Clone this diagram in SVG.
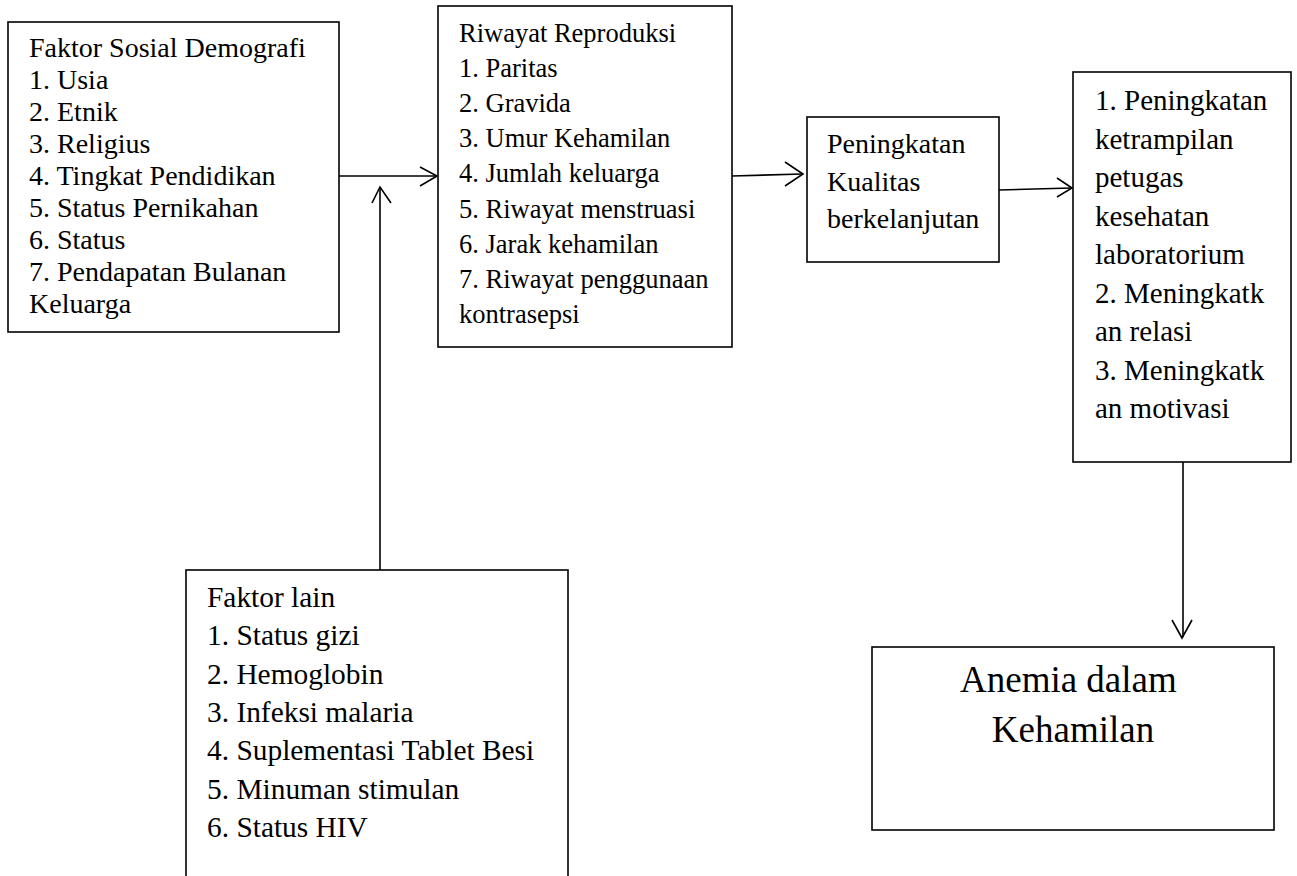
<svg xmlns="http://www.w3.org/2000/svg" width="1297" height="876" viewBox="0 0 1297 876">
<style>
.box{fill:#fff;stroke:#000;stroke-width:1.6}
text{font-family:'Liberation Serif','Times New Roman','DejaVu Serif',serif;fill:#000}
.c{fill:none;stroke:#000;stroke-width:1.6}
</style>
<rect width="1297" height="876" fill="#fff"/>
<g id="connectors">
<path class="c" d="M339,176 H437"/>
<path class="c" d="M420,167 L437,176 L420,186"/>
<path class="c" d="M380,570 V188"/>
<path class="c" d="M372,203 L380,187 L391,203"/>
<path class="c" d="M732,176 L802,174"/>
<path class="c" d="M785,162 L803,174 L785,186"/>
<path class="c" d="M999,190 L1071,188"/>
<path class="c" d="M1057,178 L1072,188 L1057,197"/>
<path class="c" d="M1183,462 V637"/>
<path class="c" d="M1172,620 L1182,638 L1192,620"/>
</g>
<g id="faktor-sosial">
<rect class="box" x="8" y="22" width="331" height="310"/>
<text font-family="Liberation Serif, serif" font-size="28">
<tspan x="29" y="57">Faktor Sosial Demografi</tspan>
<tspan x="29" y="89">1. Usia</tspan>
<tspan x="29" y="121">2. Etnik</tspan>
<tspan x="29" y="153">3. Religius</tspan>
<tspan x="29" y="185">4. Tingkat Pendidikan</tspan>
<tspan x="29" y="217">5. Status Pernikahan</tspan>
<tspan x="29" y="249">6. Status</tspan>
<tspan x="29" y="281">7. Pendapatan Bulanan</tspan>
<tspan x="29" y="313">Keluarga</tspan>
</text>
</g>
<g id="riwayat-reproduksi">
<rect class="box" x="438" y="6" width="294" height="341"/>
<text font-family="Liberation Serif, serif" font-size="26.5">
<tspan x="459" y="42">Riwayat Reproduksi</tspan>
<tspan x="459" y="77">1. Paritas</tspan>
<tspan x="459" y="112">2. Gravida</tspan>
<tspan x="459" y="147">3. Umur Kehamilan</tspan>
<tspan x="459" y="182">4. Jumlah keluarga</tspan>
<tspan x="459" y="218">5. Riwayat menstruasi</tspan>
<tspan x="459" y="253">6. Jarak kehamilan</tspan>
<tspan x="459" y="288">7. Riwayat penggunaan</tspan>
<tspan x="459" y="323">kontrasepsi</tspan>
</text>
</g>
<g id="peningkatan-kualitas">
<rect class="box" x="807" y="117" width="192" height="145"/>
<text font-family="Liberation Serif, serif" font-size="28">
<tspan x="827" y="153">Peningkatan</tspan>
<tspan x="827" y="191">Kualitas</tspan>
<tspan x="827" y="228">berkelanjutan</tspan>
</text>
</g>
<g id="peningkatan-ketrampilan">
<rect class="box" x="1073" y="72" width="218" height="390"/>
<text font-family="Liberation Serif, serif" font-size="29">
<tspan x="1095" y="110">1. Peningkatan</tspan>
<tspan x="1095" y="149">ketrampilan</tspan>
<tspan x="1095" y="187">petugas</tspan>
<tspan x="1095" y="226">kesehatan</tspan>
<tspan x="1095" y="264">laboratorium</tspan>
<tspan x="1095" y="303">2. Meningkatk</tspan>
<tspan x="1095" y="341">an relasi</tspan>
<tspan x="1095" y="380">3. Meningkatk</tspan>
<tspan x="1095" y="418">an motivasi</tspan>
</text>
</g>
<g id="faktor-lain">
<rect class="box" x="186" y="570" width="382" height="320"/>
<text font-family="Liberation Serif, serif" font-size="29.4">
<tspan x="207" y="607">Faktor lain</tspan>
<tspan x="207" y="645">1. Status gizi</tspan>
<tspan x="207" y="684">2. Hemoglobin</tspan>
<tspan x="207" y="722">3. Infeksi malaria</tspan>
<tspan x="207" y="760">4. Suplementasi Tablet Besi</tspan>
<tspan x="207" y="799">5. Minuman stimulan</tspan>
<tspan x="207" y="837">6. Status HIV</tspan>
</text>
</g>
<g id="anemia">
<rect class="box" x="872" y="647" width="402" height="183"/>
<text font-family="Liberation Serif, serif" font-size="37" text-anchor="middle">
<tspan x="1073" y="692">Anemia dalam</tspan>
<tspan x="1073" y="742">Kehamilan</tspan>
</text>
</g>
</svg>
